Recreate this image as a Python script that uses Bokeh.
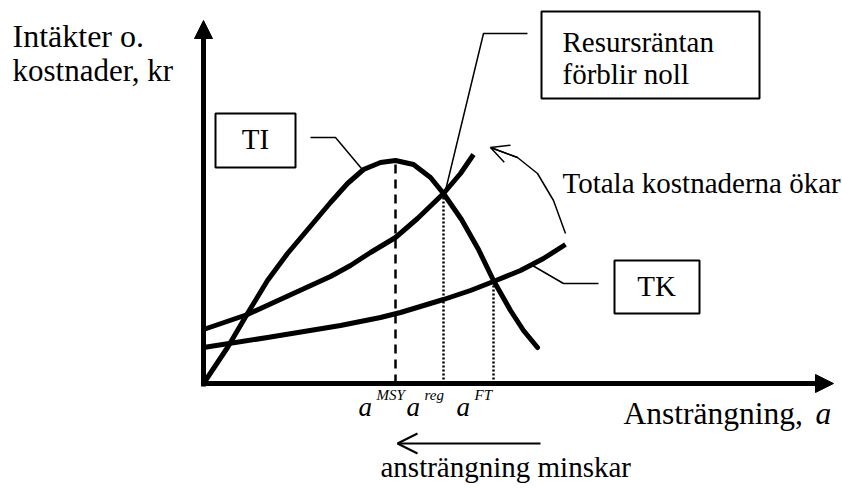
from bokeh.plotting import figure
from bokeh.models import Range1d, Label, Arrow, NormalHead, OpenHead
from bokeh.embed import file_html
from bokeh.resources import INLINE

# ---- data (diagram units: effort a on x, kr on y) ----
ti_effort = [0, 24, 44, 64, 84, 127, 144, 160, 177, 192, 210, 227, 240, 258, 275, 290, 307, 320, 334]
ti_revenue = [0, 36, 70, 103, 130, 181, 200, 214, 221, 223, 219, 206, 190, 164, 134, 103, 73, 53, 36]

tk_high_effort = [0, 44, 92, 127, 147, 167, 192, 214, 240, 257, 270]
tk_high_cost = [54, 69, 91, 107, 118, 131, 146, 165, 190, 210, 229]

tk_low_effort = [0, 64, 137, 177, 197, 240, 267, 290, 317, 340, 362]
tk_low_cost = [36, 46, 58, 66, 71, 84, 93, 102, 113, 125, 139]

a_marks = [192, 240, 290]            # a^MSY, a^reg, a^FT
a_mark_tops = [223, 190, 103]
a_mark_sup = ["MSY", "reg", "FT"]
a_mark_dash = ["9 6", "2 2", "2 2"]

# annotation curve (Totala kostnaderna ökar)
up_arrow_x = [362, 350, 334, 314, 287]
up_arrow_y = [150, 183, 210, 226, 236]

FONT = "Liberation Serif"
BL = 9  # baseline correction for alphabetic labels

p = figure(width=842, height=489, output_backend="svg", toolbar_location=None,
           x_range=Range1d(-203, 639), y_range=Range1d(-106, 383),
           min_border=0, min_border_left=0, min_border_right=0,
           min_border_top=0, min_border_bottom=0)
p.xaxis.visible = False
p.yaxis.visible = False
p.grid.visible = False
p.outline_line_color = None
p.background_fill_color = "white"
p.border_fill_color = "white"

# axes with arrow heads
p.add_layout(Arrow(end=NormalHead(size=18, fill_color="black", line_color="black", line_width=1),
                   x_start=0, y_start=-3, x_end=0, y_end=363, line_width=5, line_color="black"))
p.add_layout(Arrow(end=NormalHead(size=18, fill_color="black", line_color="black", line_width=1),
                   x_start=-2, y_start=0, x_end=630, y_end=0, line_width=5, line_color="black"))

# vertical marker lines
for xm, ym, dash in zip(a_marks, a_mark_tops, a_mark_dash):
    p.line([xm, xm], [0, ym], line_color="black", line_width=2.5, line_dash=dash)

# curves
p.line(tk_low_effort, tk_low_cost, line_color="black", line_width=5, line_join="round")
p.line(tk_high_effort, tk_high_cost, line_color="black", line_width=5, line_join="round")
p.line(ti_effort, ti_revenue, line_color="black", line_width=5, line_join="round", line_cap="round")

# leader lines
p.line([107, 132, 158], [246, 246, 215], line_color="black", line_width=1.5)
p.line([324, 280, 242], [350, 350, 193], line_color="black", line_width=1.5)
p.line([395, 360, 329], [100, 100, 118], line_color="black", line_width=1.5)

# curved arrow
p.line(up_arrow_x, up_arrow_y, line_color="black", line_width=1.5, line_join="round")
p.add_layout(Arrow(end=OpenHead(size=18, line_width=1.5, line_color="black"),
                   x_start=up_arrow_x[-2], y_start=up_arrow_y[-2],
                   x_end=up_arrow_x[-1], y_end=up_arrow_y[-1], line_width=1.5, line_color="black"))

# bottom arrow
p.add_layout(Arrow(end=OpenHead(size=20, line_width=2, line_color="black"),
                   x_start=337, y_start=-60, x_end=194, y_end=-60, line_width=2, line_color="black"))

# boxes
p.quad(left=[12, 338, 411], right=[92, 556, 496], bottom=[216, 285, 70], top=[270, 372, 123],
       fill_color="white", line_color="black", line_width=2)

def lab(x, y, text, size, style="normal", align="left", baseline="alphabetic"):
    p.add_layout(Label(x=x, y=y, text=text, text_font=FONT, text_font_size=f"{size}px",
                       text_font_style=style, text_align=align, text_baseline=baseline,
                       text_color="black"))

lab(-191, 339 + BL, "Intäkter o.", 32)
lab(-191, 304 + BL, "kostnader, kr", 31)
lab(52, 245, "TI", 29, align="center", baseline="middle")
lab(453, 98, "TK", 29, align="center", baseline="middle")
lab(359, 333 + BL, "Resursräntan", 29)
lab(359, 301 + BL, "förblir noll", 29)
lab(359, 192 + BL, "Totala kostnaderna ökar", 29)
lab(420, -39 + BL, "Ansträngning,", 31.5)
lab(612, -39 + BL, "a", 31.5, style="italic")
lab(177, -92 + BL, "ansträngning minskar", 29)

for xm, sup in zip(a_marks, a_mark_sup):
    lab(xm - 37, -32 + BL, "a", 27, style="italic")
    lab(xm - 19, -20 + BL, sup, 15, style="italic")

open("out.html", "w").write(file_html(p, INLINE))
